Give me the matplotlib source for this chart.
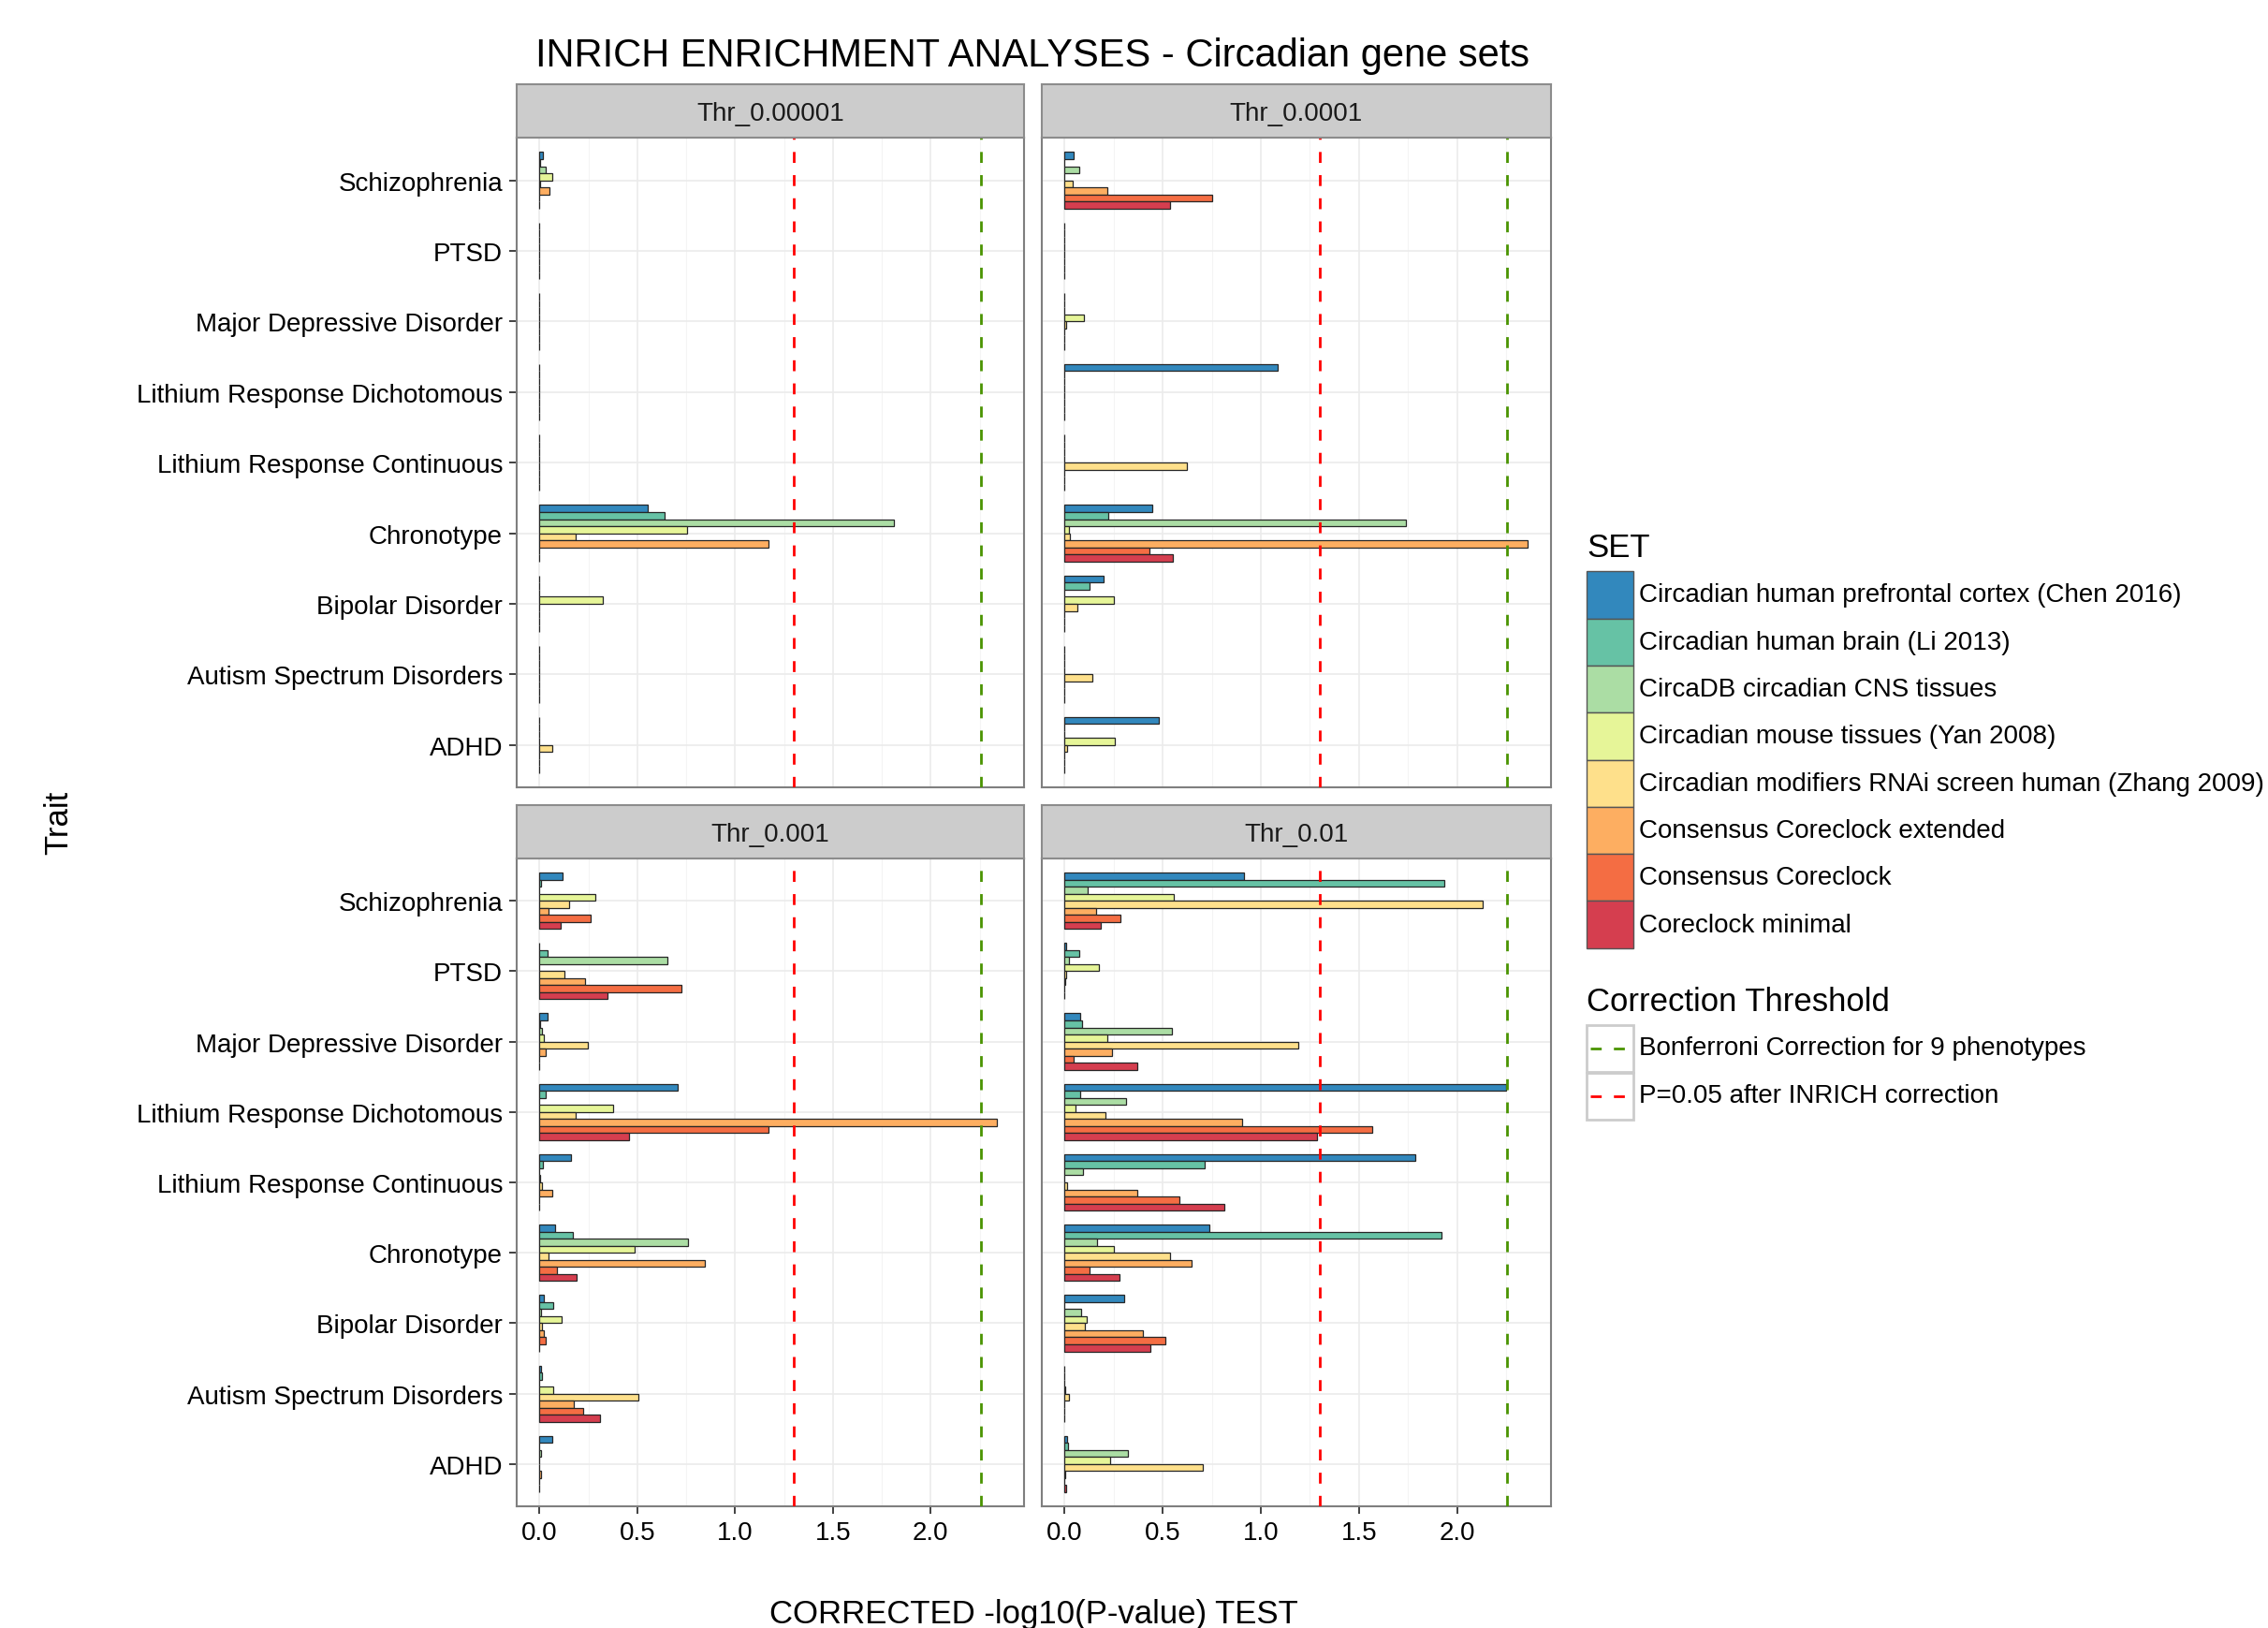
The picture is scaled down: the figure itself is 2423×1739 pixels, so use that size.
import numpy as np
import matplotlib
matplotlib.use("Agg")
import matplotlib.pyplot as plt
from matplotlib.patches import Rectangle

plt.rcParams["font.family"] = ["Liberation Sans", "DejaVu Sans"]

traits = ["Schizophrenia", "PTSD", "Major Depressive Disorder",
          "Lithium Response Dichotomous", "Lithium Response Continuous",
          "Chronotype", "Bipolar Disorder", "Autism Spectrum Disorders", "ADHD"]

gene_sets = ["Circadian human prefrontal cortex (Chen 2016)",
             "Circadian human brain (Li 2013)",
             "CircaDB circadian CNS tissues",
             "Circadian mouse tissues (Yan 2008)",
             "Circadian modifiers RNAi screen human (Zhang 2009)",
             "Consensus Coreclock extended",
             "Consensus Coreclock",
             "Coreclock minimal"]

set_colors = ["#3288BD", "#66C2A5", "#ABDDA4", "#E6F598",
              "#FEE08B", "#FDAE61", "#F46D43", "#D53E4F"]

thresholds = ["Thr_0.00001", "Thr_0.0001", "Thr_0.001", "Thr_0.01"]

# rows follow `traits`, columns follow `gene_sets`
thr_00001 = [
    [0.019, 0.004, 0.031, 0.065, 0.005, 0.051, 0, 0],
    [0, 0, 0, 0, 0, 0, 0, 0],
    [0, 0, 0, 0, 0, 0, 0, 0],
    [0, 0, 0, 0, 0, 0, 0, 0],
    [0, 0, 0, 0, 0, 0, 0, 0],
    [0.554, 0.641, 1.813, 0.754, 0.184, 1.172, 0, 0],
    [0, 0, 0, 0.323, 0, 0, 0, 0],
    [0, 0, 0, 0, 0, 0, 0, 0],
    [0, 0, 0, 0, 0.063, 0, 0, 0],
]
thr_0001 = [
    [0.048, 0, 0.077, 0, 0.043, 0.218, 0.753, 0.537],
    [0, 0, 0, 0, 0, 0, 0, 0],
    [0, 0, 0, 0.099, 0.008, 0, 0, 0],
    [1.085, 0, 0, 0, 0, 0, 0, 0],
    [0, 0, 0, 0, 0.624, 0, 0, 0],
    [0.447, 0.221, 1.738, 0.020, 0.029, 2.359, 0.432, 0.553],
    [0.199, 0.129, 0, 0.252, 0.066, 0, 0, 0],
    [0, 0, 0, 0, 0.141, 0, 0, 0],
    [0.478, 0, 0, 0.255, 0.014, 0, 0, 0],
]
thr_001 = [
    [0.119, 0.008, 0, 0.287, 0.150, 0.046, 0.260, 0.107],
    [0, 0.039, 0.654, 0, 0.127, 0.234, 0.724, 0.347],
    [0.039, 0.004, 0.014, 0.020, 0.248, 0.032, 0, 0],
    [0.707, 0.032, 0, 0.376, 0.184, 2.336, 1.169, 0.460],
    [0.160, 0.019, 0, 0.005, 0.015, 0.063, 0, 0],
    [0.078, 0.170, 0.760, 0.486, 0.046, 0.846, 0.090, 0.190],
    [0.024, 0.071, 0.007, 0.112, 0.012, 0.020, 0.031, 0],
    [0.008, 0.015, 0, 0.068, 0.506, 0.175, 0.224, 0.311],
    [0.066, 0, 0.010, 0, 0, 0.008, 0, 0],
]
thr_01 = [
    [0.912, 1.937, 0.119, 0.556, 2.133, 0.163, 0.286, 0.185],
    [0.009, 0.075, 0.020, 0.177, 0.009, 0.004, 0, 0],
    [0.080, 0.088, 0.549, 0.219, 1.192, 0.241, 0.046, 0.369],
    [2.252, 0.080, 0.315, 0.054, 0.206, 0.906, 1.570, 1.287],
    [1.786, 0.713, 0.092, 0, 0.015, 0.372, 0.587, 0.813],
    [0.736, 1.923, 0.167, 0.253, 0.536, 0.645, 0.126, 0.279],
    [0.304, 0, 0.082, 0.111, 0.104, 0.401, 0.514, 0.435],
    [0, 0, 0, 0.002, 0.024, 0, 0, 0],
    [0.014, 0.017, 0.323, 0.231, 0.704, 0.003, 0, 0.010],
]
panel_values = [thr_00001, thr_0001, thr_001, thr_01]

p_inrich = -np.log10(0.05)
p_bonf = -np.log10(0.05 / 9)

W, H = 2423, 1740
fig = plt.figure(figsize=(W / 100, H / 100), dpi=100)


def px_box(left, top, right, bottom):
    return [left / W, 1 - bottom / H, (right - left) / W, (bottom - top) / H]


cols = [(551.7, 1094.0), (1112.6, 1656.6)]
rows = [(148.4, 842.0), (918.0, 1610.0)]
strip_h = 57.4

vmax = max(np.max(v) for v in panel_values)
xpad = 0.05 * vmax
bar_h = 0.1
n_sets = len(gene_sets)
ypos = np.arange(len(traits))

for k, (name, vals) in enumerate(zip(thresholds, panel_values)):
    r, c = divmod(k, 2)
    (left, right), (top, bottom) = cols[c], rows[r]
    ax = fig.add_axes(px_box(left, top, right, bottom))
    vals = np.array(vals)

    for j in range(n_sets):
        ax.barh(ypos + (j - (n_sets - 1) / 2) * bar_h, vals[:, j], height=bar_h,
                color=set_colors[j], edgecolor="#262626", linewidth=0.9, zorder=3)

    dash = dict(linestyle=(0, (4.2, 4.7)), linewidth=2.0, zorder=4)
    ax.axvline(p_inrich, color="#FF0000", **dash)
    ax.axvline(p_bonf, color="#4A9400", **dash)

    ax.set_xlim(-xpad, vmax + xpad)
    ax.set_ylim(len(traits) - 0.4, -0.6)
    ax.set_xticks(np.arange(0, 2.01, 0.5))
    ax.set_xticks(np.arange(0.25, 2.5, 0.5), minor=True)
    ax.set_yticks(ypos)
    ax.grid(which="major", color="#EBEBEB", linewidth=1.2, zorder=0)
    ax.grid(which="minor", axis="x", color="#F4F4F4", linewidth=0.8, zorder=0)
    ax.set_axisbelow(True)
    for s in ax.spines.values():
        s.set_color("#7F7F7F")
        s.set_linewidth(1.5)

    ax.tick_params(which="minor", length=0)
    ax.tick_params(which="major", length=5.5, width=1.3, color="#333333",
                   labelsize=20, labelcolor="black")
    ax.tick_params(axis="y", pad=5)
    ax.tick_params(axis="x", pad=5)
    if c == 0:
        ax.set_yticklabels(traits)
    else:
        ax.tick_params(axis="y", length=0, labelleft=False)
    if r == 1:
        ax.set_xticklabels(["0.0", "0.5", "1.0", "1.5", "2.0"])
    else:
        ax.tick_params(axis="x", length=0, labelbottom=False)

    sax = fig.add_axes(px_box(left, top - strip_h, right, top))
    sax.set_facecolor("#CCCCCC")
    sax.set_xticks([])
    sax.set_yticks([])
    for s in sax.spines.values():
        s.set_color("#8C8C8C")
        s.set_linewidth(1.5)
    sax.text(0.5, 0.46, name, ha="center", va="center", fontsize=20,
             color="#1A1A1A", transform=sax.transAxes)

fig.text(1103 / W, 1 - 60 / H, "INRICH ENRICHMENT ANALYSES - Circadian gene sets",
         ha="center", va="center", fontsize=30)
fig.text(1104 / W, 1 - 1725 / H, "CORRECTED -log10(P-value) TEST",
         ha="center", va="center", fontsize=25)
fig.text(63 / W, 1 - 879 / H, "Trait", ha="center", va="center",
         rotation=90, fontsize=25)

# legends, drawn on an overlay in pixel units
lg = fig.add_axes([0, 0, 1, 1])
lg.set_xlim(0, W)
lg.set_ylim(H, 0)
lg.axis("off")

key_x, key_w, row_h = 1695, 50, 50.3
lg.text(key_x, 586, "SET", fontsize=25, va="center", ha="left")
for j, (lab, col) in enumerate(zip(gene_sets, set_colors)):
    cy = 636.5 + j * row_h
    lg.add_patch(Rectangle((key_x, cy - row_h / 2), key_w, row_h,
                           facecolor=col, edgecolor="#555555", linewidth=1.0))
    lg.text(key_x + key_w + 6, cy, lab, fontsize=20, va="center", ha="left")

lg.text(key_x, 1071, "Correction Threshold", fontsize=25, va="center", ha="left")
thr_labels = ["Bonferroni Correction for 9 phenotypes", "P=0.05 after INRICH correction"]
thr_colors = ["#4A9400", "#FF0000"]
for j, (lab, col) in enumerate(zip(thr_labels, thr_colors)):
    cy = 1120.5 + j * 51
    lg.add_patch(Rectangle((key_x, cy - 25), key_w, 50, facecolor="white",
                           edgecolor="#CCCCCC", linewidth=2.0))
    lg.plot([key_x + 4, key_x + key_w - 4], [cy, cy], color=col,
            linestyle=(0, (4.2, 4.7)), linewidth=2.0)
    lg.text(key_x + key_w + 6, cy, lab, fontsize=20, va="center", ha="left")

fig.savefig("out.png", dpi=100)
